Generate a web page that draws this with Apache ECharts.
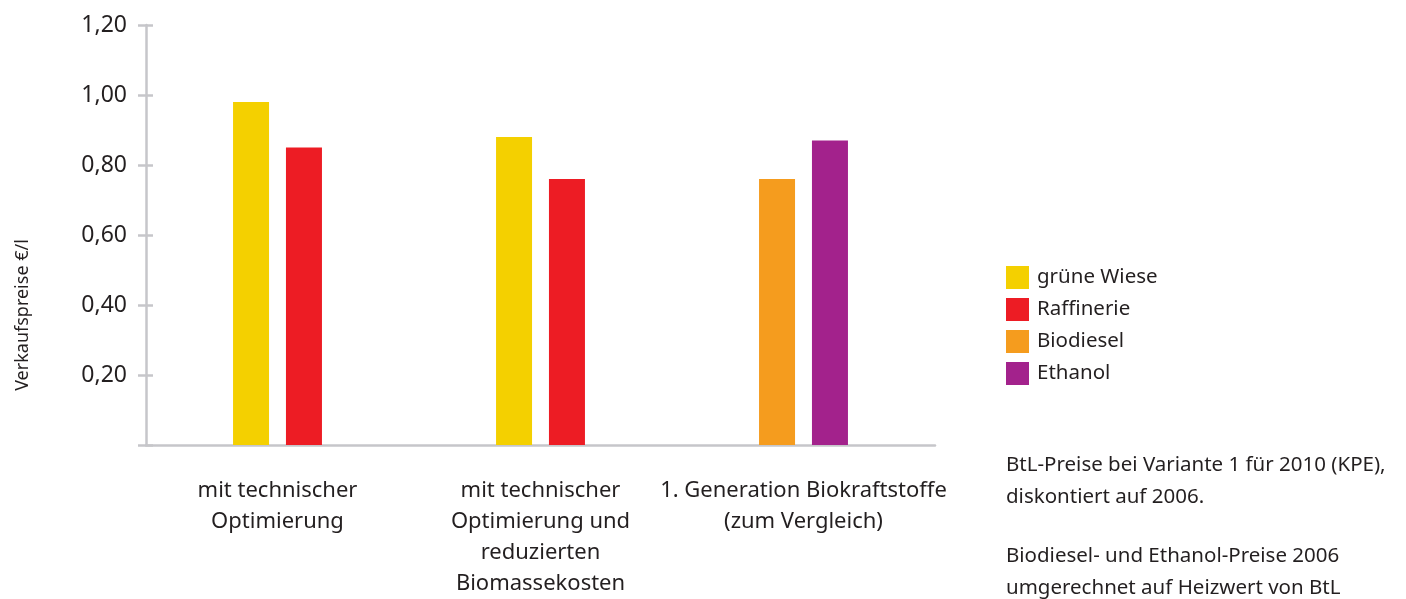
<!DOCTYPE html>
<html>
<head>
<meta charset="utf-8">
<script src="https://cdn.jsdelivr.net/npm/echarts@6/dist/echarts.min.js"></script>
<style>
  html, body { margin: 0; padding: 0; background: #fff; overflow: hidden; }
  #chart { width: 1406px; height: 599px; }
</style>
</head>
<body>
<div id="chart"></div>
<script>
const categories = [
  'mit technischer\nOptimierung',
  'mit technischer\nOptimierung und\nreduzierten\nBiomassekosten',
  '1. Generation Biokraftstoffe\n(zum Vergleich)'
]
// '-' = kein Balken in dieser Gruppe
const grueneWiese = [0.98, 0.88, '-']
const raffinerie = [0.85, 0.76, '-']
const biodiesel = ['-', '-', 0.76]
const ethanol = ['-', '-', 0.87]
const yTicks = [0, 0.2, 0.4, 0.6, 0.8, 1.0, 1.2]

const notes = [
  'BtL-Preise bei Variante 1 für 2010 (KPE),',
  'diskontiert auf 2006.',
  'Biodiesel- und Ethanol-Preise 2006',
  'umgerechnet auf Heizwert von BtL'
]
const noteY = [465, 497, 556, 588]

const FONT = 'Noto Sans'
const TEXT = '#231f20'
const AXIS = '#c6c6ca'

const chart = echarts.init(document.getElementById('chart'))

const fmt = v => (v === 0 ? '' : v.toFixed(2).replace('.', ','))

const bar = (name, stack, data, color) => ({
  name, type: 'bar', stack, data,
  barWidth: 36, barGap: '47%',
  itemStyle: { color },
  emphasis: { disabled: true }
})

const noteLines = notes.map((t, i) => ({
  type: 'text', x: 1006, y: noteY[i],
  style: { text: t, font: `20.5px "${FONT}"`, fill: TEXT, verticalAlign: 'middle' }
}))

const option = {
  animation: false,
  backgroundColor: '#fff',
  textStyle: { fontFamily: FONT },
  grid: { left: 146, right: 471, top: 25, bottom: 146 },
  legend: {
    orient: 'vertical', left: 1006, top: 266, padding: 0,
    icon: 'rect', itemWidth: 23, itemHeight: 23, itemGap: 9,
    data: ['grüne Wiese', 'Raffinerie', 'Biodiesel', 'Ethanol'],
    textStyle: { fontSize: 20.5, color: TEXT, fontFamily: FONT, padding: [0, 0, 0, 3] }
  },
  xAxis: {
    type: 'category', data: categories,
    axisLine: { lineStyle: { color: AXIS, width: 2.5 } },
    axisTick: { show: false },
    axisLabel: { color: TEXT, fontSize: 22, lineHeight: 31, margin: 30, fontFamily: FONT, interval: 0 }
  },
  yAxis: [
    {
      type: 'value', min: yTicks[0], max: yTicks[yTicks.length - 1], interval: 0.2,
      axisLine: { show: true, lineStyle: { color: AXIS, width: 2.5 } },
      axisTick: { show: true, length: 8, lineStyle: { color: AXIS, width: 2.5 } },
      splitLine: { show: false },
      axisLabel: { formatter: fmt, color: TEXT, fontSize: 23, margin: 19, fontFamily: FONT }
    },
    {
      type: 'value', min: yTicks[0], max: yTicks[yTicks.length - 1], interval: 0.2,
      position: 'left', offset: 0,
      axisLine: { show: false },
      axisTick: { show: true, inside: true, length: 7, lineStyle: { color: AXIS, width: 2.5 } },
      splitLine: { show: false },
      axisLabel: { show: false }
    }
  ],
  series: [
    bar('grüne Wiese', 'links', grueneWiese, '#f4d000'),
    bar('Raffinerie', 'rechts', raffinerie, '#ed1c24'),
    bar('Biodiesel', 'links', biodiesel, '#f59c1e'),
    bar('Ethanol', 'rechts', ethanol, '#a3228c')
  ],
  graphic: [
    {
      type: 'text', x: 23, y: 315, rotation: Math.PI / 2,
      style: { text: 'Verkaufspreise €/l', font: `18px "${FONT}"`, fill: TEXT, align: 'center', verticalAlign: 'middle' }
    },
    ...noteLines
  ]
}

chart.setOption(option)
</script>
</body>
</html>
